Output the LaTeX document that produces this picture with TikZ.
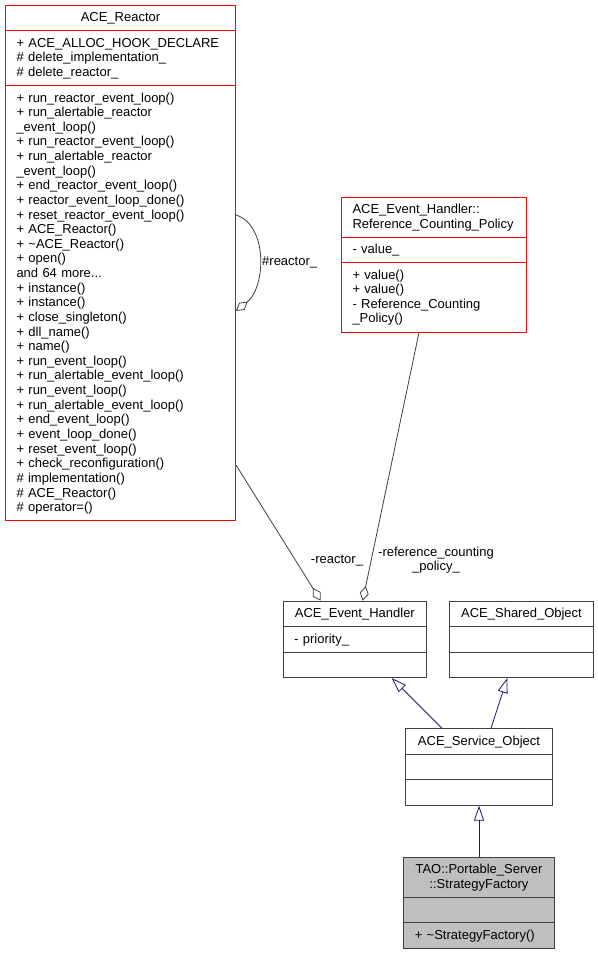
\documentclass[tikz,border=0pt]{standalone}
\usepackage{fontspec}
\setmainfont{Liberation Sans}
\usetikzlibrary{shapes.multipart,arrows.meta,calc}

\definecolor{edgegray}{HTML}{404040}
\definecolor{inhblue}{HTML}{191970}
\definecolor{boxgray}{HTML}{BFBFBF}
\newcommand{\umlstrut}{\rule[-3.63pt]{0pt}{14.63pt}}

\tikzset{
  umlclass/.style={rectangle split, rectangle split parts=3, draw=#1, fill=white,
    line width=1pt, inner xsep=11pt, inner ysep=4.9pt, anchor=north west,
    font=\fontsize{13}{14.63}\selectfont},
  umlclass/.default=black!75,
  aggr/.style={draw=edgegray, line width=0.8pt, -{Diamond[open, length=15pt, width=9pt]}},
  inh/.style={draw=inhblue, line width=0.8pt, -{Triangle[open, length=15pt, width=10pt]}},
  lbl/.style={font=\fontsize{13}{14.63}\selectfont, inner sep=0pt},
}

\begin{document}
\begin{tikzpicture}[x=1pt, y=-1pt]
    \useasboundingbox (0,0) rectangle (597,955);

    % classes
    \node[umlclass=red, text width=208pt] (reactor) at (5,5)
      {\centering\umlstrut ACE\_Reactor\umlstrut\par
       \nodepart{two}\umlstrut + ACE\_ALLOC\_HOOK\_DECLARE\\
       \# delete\_implementation\_\\
       \# delete\_reactor\_\umlstrut
       \nodepart{three}\umlstrut + run\_reactor\_event\_loop()\\
       + run\_alertable\_reactor\\
       \_event\_loop()\\
       + run\_reactor\_event\_loop()\\
       + run\_alertable\_reactor\\
       \_event\_loop()\\
       + end\_reactor\_event\_loop()\\
       + reactor\_event\_loop\_done()\\
       + reset\_reactor\_event\_loop()\\
       + ACE\_Reactor()\\
       + \textasciitilde ACE\_Reactor()\\
       + open()\\
       and 64 more...\\
       + instance()\\
       + instance()\\
       + close\_singleton()\\
       + dll\_name()\\
       + name()\\
       + run\_event\_loop()\\
       + run\_alertable\_event\_loop()\\
       + run\_event\_loop()\\
       + run\_alertable\_event\_loop()\\
       + end\_event\_loop()\\
       + event\_loop\_done()\\
       + reset\_event\_loop()\\
       + check\_reconfiguration()\\
       \# implementation()\\
       \# ACE\_Reactor()\\
       \# operator=()\umlstrut};

    \node[umlclass=red, text width=162.7pt] (rcp) at (341,196.7)
      {\umlstrut ACE\_Event\_Handler::\\
       Reference\_Counting\_Policy\umlstrut
       \nodepart{two}\umlstrut - value\_\umlstrut
       \nodepart{three}\umlstrut + value()\\
       + value()\\
       - Reference\_Counting\\
       \_Policy()\umlstrut};

    \node[umlclass, text width=121.3pt] (handler) at (282.7,600.7)
      {\centering\umlstrut ACE\_Event\_Handler\umlstrut\par
       \nodepart{two}\umlstrut - priority\_\umlstrut
       \nodepart{three}\umlstrut};

    \node[umlclass, text width=121.4pt] (shared) at (449.3,600.7)
      {\centering\umlstrut ACE\_Shared\_Object\umlstrut\par
       \nodepart{two}\umlstrut
       \nodepart{three}\umlstrut};

    \node[umlclass, text width=125pt] (serv) at (405,728.3)
      {\centering\umlstrut ACE\_Service\_Object\umlstrut\par
       \nodepart{two}\umlstrut
       \nodepart{three}\umlstrut};

    \node[umlclass, fill=boxgray, text width=128.4pt] (tao) at (403.3,856.7)
      {\centering\umlstrut TAO::Portable\_Server\\
       ::StrategyFactory\umlstrut\par
       \nodepart{two}\umlstrut
       \nodepart{three}\umlstrut + \textasciitilde StrategyFactory()\umlstrut};

    % self association
    \draw[aggr] ($(reactor.north east)+(0,210)$) .. controls +(32,10) and +(30,-24) .. ($(reactor.north east)+(0,306)$);
    \node[lbl, anchor=west] (selflbl) at (262,262) {\#reactor\_};

    % associations to the handler
    \draw[aggr] ($(reactor.north east)+(0,460)$) -- ($(handler.north west)+(38,0)$);
    \draw[aggr] ($(rcp.south west)+(78,0)$) -- ($(handler.north west)+(80,0)$);
    \node[lbl] (reactorlbl) at (337,561) {-reactor\_};
    \node[lbl, align=center] (rcplbl) at (436,560) {-reference\_counting\\\_policy\_};

    % inheritance
    \draw[inh] ($(serv.north west)+(37,0)$) -- ($(handler.south west)+(109,0)$);
    \draw[inh] ($(serv.north west)+(86,0)$) -- ($(shared.south west)+(58,0)$);
    \draw[inh] (tao.north) -- (serv.south);
\end{tikzpicture}
\end{document}
